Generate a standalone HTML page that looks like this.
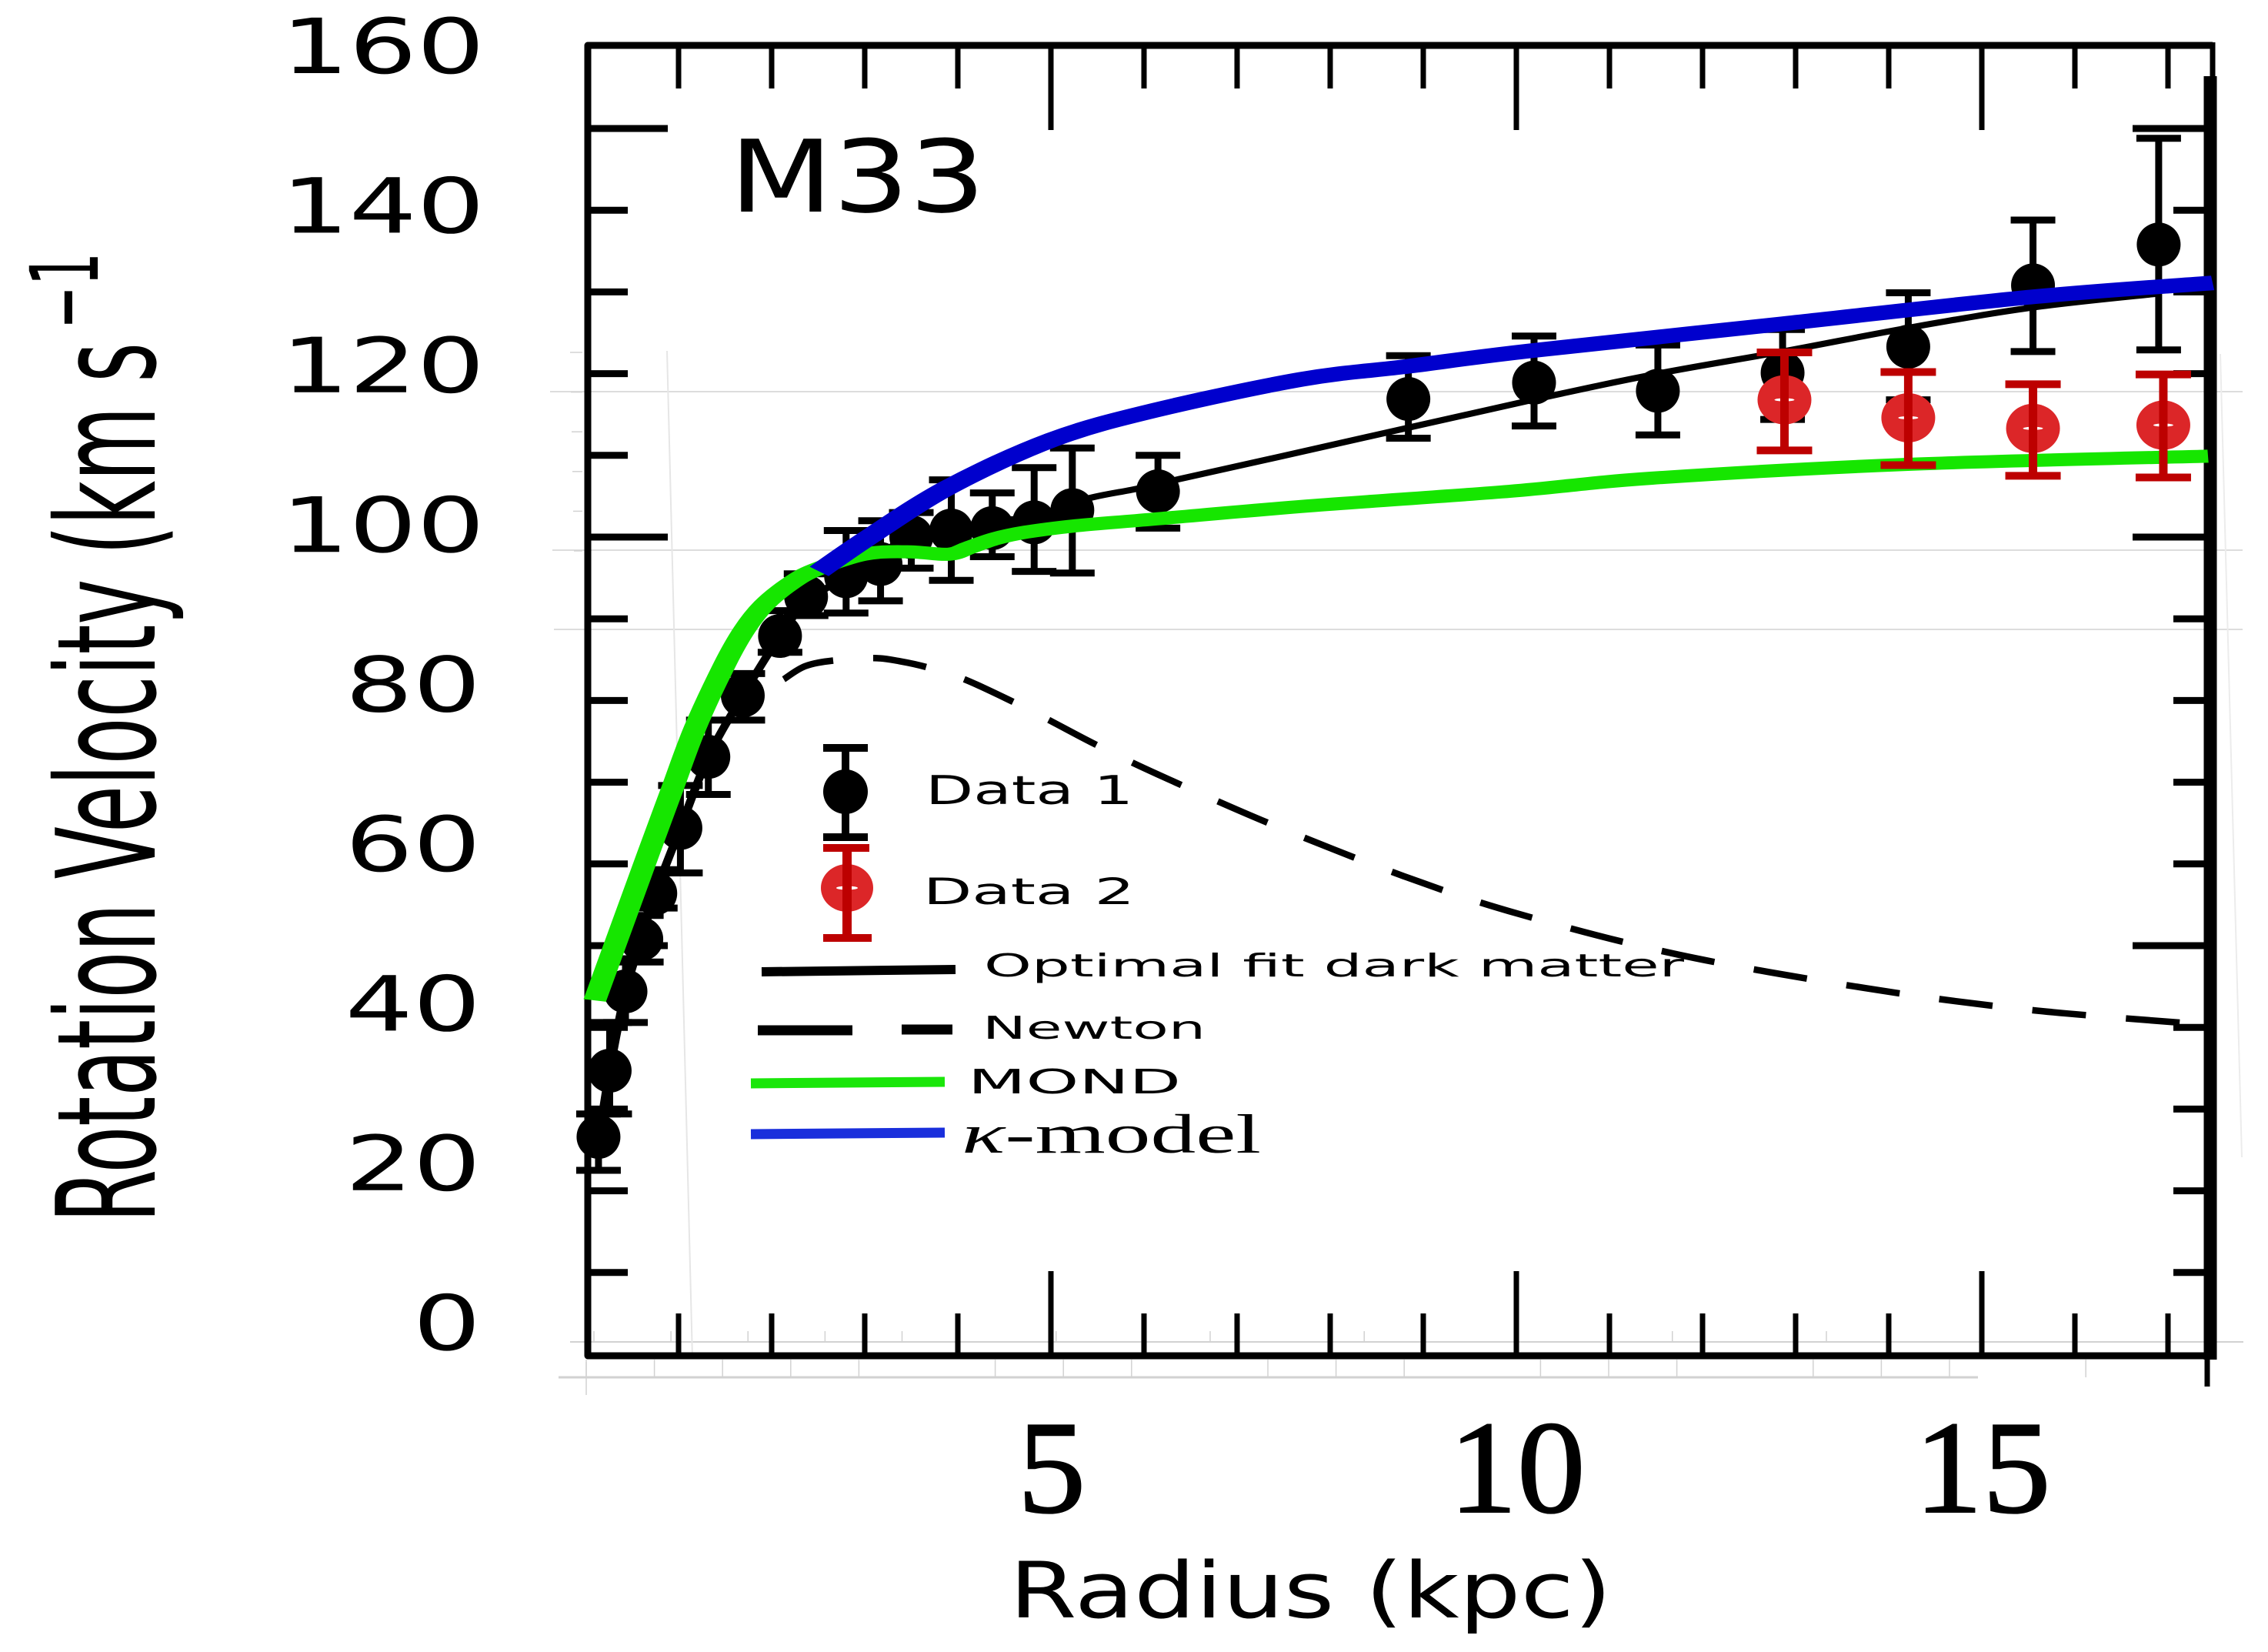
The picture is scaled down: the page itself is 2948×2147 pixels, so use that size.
<!DOCTYPE html>
<html lang="en">
<head>
<meta charset="utf-8">
<title>M33 Rotation Curve</title>
<style>
html,body{margin:0;padding:0;background:#fff;}
svg{display:block;}
text{font-family:"DejaVu Sans","Liberation Sans",sans-serif;fill:#000;}
</style>
</head>
<body>
<svg id="chart" xmlns="http://www.w3.org/2000/svg" width="2948" height="2147" viewBox="0 0 2948 2147">
  <rect x="0" y="0" width="2948" height="2147" fill="#fff"/>
  <g id="artifacts" stroke="#d2d2d2" fill="none">
    <line x1="715" y1="509" x2="2915" y2="509" stroke-width="1.5"/>
    <line x1="718" y1="715" x2="2915" y2="715" stroke-width="1.5"/>
    <line x1="720" y1="818" x2="2915" y2="818" stroke-width="1.5"/>
    <line x1="741" y1="1744" x2="2916" y2="1744" stroke-width="2"/>
    <line x1="726" y1="1790" x2="2571" y2="1790" stroke-width="3"/>
    <line x1="762" y1="1770" x2="762" y2="1813" stroke-width="1.5"/>
    <line x1="867" y1="456" x2="900" y2="1765" stroke="#e6e6e6" stroke-width="2"/>
    <line x1="2886" y1="460" x2="2914" y2="1504" stroke="#ececec" stroke-width="2"/>
  </g>
  <g id="frame" fill="none" stroke="#000" stroke-linejoin="round">
    <path d="M2876 59H764V1762H2873" stroke-width="9"/>
    <line x1="2876" y1="55" x2="2876" y2="110" stroke-width="7"/>
    <line x1="2873" y1="99" x2="2873" y2="1767" stroke-width="17"/>
    <line x1="2869" y1="1760" x2="2869" y2="1802" stroke-width="7"/>
  </g>
  <g id="ticks" stroke="#000"></g>
  <g id="tick-labels"></g>
  <g id="series-fit"></g>
  <g id="series-newton"></g>
  <g id="series-data1"></g>
  <g id="series-mond"></g>
  <g id="series-kappa"></g>
  <g id="series-data2"></g>

  <text x="948" y="275" font-size="130" textLength="333" lengthAdjust="spacingAndGlyphs">M33</text>

  <g transform="translate(201,1589) rotate(-90)">
    <text x="0" y="0" font-size="178" textLength="1144" lengthAdjust="spacingAndGlyphs">Rotation Velocity (km s</text>
  </g>
  <g transform="translate(127,428) rotate(-90)">
    <text x="0" y="0" font-size="122" textLength="100" lengthAdjust="spacingAndGlyphs">−1</text>
  </g>
  <text x="1312" y="2102" font-size="101" textLength="783" lengthAdjust="spacingAndGlyphs">Radius (kpc)</text>

  <g>
    <g>
      <line x1="1099" y1="972" x2="1099" y2="1088" stroke="#000" stroke-width="10"/>
      <line x1="1070" y1="972" x2="1128" y2="972" stroke="#000" stroke-width="10"/>
      <line x1="1070" y1="1088" x2="1128" y2="1088" stroke="#000" stroke-width="10"/>
      <circle cx="1099" cy="1029" r="29" fill="#000"/>
      <text x="1203" y="1045" font-size="52" textLength="270" lengthAdjust="spacingAndGlyphs">Data 1</text>
    </g>
    <g>
      <ellipse cx="1101" cy="1154" rx="34" ry="31" fill="#dc2628"/>
      <ellipse cx="1101" cy="1154" rx="14" ry="2.5" fill="#fff"/>
      <line x1="1101" y1="1102" x2="1101" y2="1219" stroke="#bd0000" stroke-width="12"/>
      <line x1="1070" y1="1102" x2="1130" y2="1102" stroke="#bd0000" stroke-width="10"/>
      <line x1="1070" y1="1219" x2="1133" y2="1219" stroke="#bd0000" stroke-width="10"/>
      <text x="1200" y="1175" font-size="47" textLength="275" lengthAdjust="spacingAndGlyphs">Data 2</text>
    </g>
    <g>
      <line x1="990" y1="1263" x2="1242" y2="1260" stroke="#000" stroke-width="12"/>
      <text x="1279" y="1269" font-size="41" textLength="910" lengthAdjust="spacingAndGlyphs">Optimal fit dark matter</text>
    </g>
    <g>
      <line x1="985" y1="1339" x2="1108" y2="1339" stroke="#000" stroke-width="13"/>
      <line x1="1172" y1="1338" x2="1238" y2="1338" stroke="#000" stroke-width="13"/>
      <text x="1277" y="1350" font-size="41" textLength="290" lengthAdjust="spacingAndGlyphs">Newton</text>
    </g>
    <g>
      <line x1="976" y1="1408" x2="1228" y2="1406" stroke="#1ae60a" stroke-width="13"/>
      <text x="1258" y="1421" font-size="44" textLength="277" lengthAdjust="spacingAndGlyphs">MOND</text>
    </g>
    <g>
      <line x1="976" y1="1474" x2="1228" y2="1472" stroke="#1a2fdc" stroke-width="13"/>
      <text x="1250" y="1498" font-size="72" textLength="389" lengthAdjust="spacingAndGlyphs" style="font-family:'Liberation Serif',serif"><tspan font-style="italic">κ</tspan>-model</text>
    </g>
  </g>
</svg>
<script>
// Axis tick values and labels
var xMinorTicks = [1,2,3,4,6,7,8,9,11,12,13,14,16,17];
var xMajorTicks = [5,10,15];
var xTickLabels = ["5","10","15"];
var yMinorTicks = [10,20,30,40,60,70,80,90,110,120,130,140];
var yMajorTicks = [50,100,150];
var yTickLabels = ["160","140","120","100","80","60","40","20","0"];
var yTickLabelValues = [160,140,120,100,80,60,40,20,0];

// Data 1 (black points)
var data1Radius = [0.14,0.26,0.43,0.60,0.75,1.02,1.32,1.69,2.09,2.37,2.80,3.17,3.50,3.93,4.37,4.82,5.23,6.15,8.84,10.19,11.52,12.86,14.21,15.55,16.90];
var data1Velocity = [26.6,34.7,44.4,50.8,56.4,64.4,73.1,80.6,87.9,92.7,95.2,96.7,100,100.8,101.1,101.8,103.3,105.6,116.9,118.9,117.9,120.1,123.3,130.8,135.8];
var data1High = [29.4,40.6,48.4,53.7,59.3,69.6,77.6,83.3,91,95.5,100.8,102,103,107,105.4,108.5,110.9,110,122.2,124.6,123.5,125.4,129.9,138.8,148.8];
var data1Low = [22.5,29.4,40.6,48,54.6,58.9,68.5,77.6,85.9,90.4,90.7,92.2,96.2,94.7,97.6,95.8,95.6,101.1,112.1,113.6,112.5,114.4,116.8,122.7,122.9];

// Data 2 (red points)
var data2Radius = [12.88,14.21,15.55,16.95];
var data2Velocity = [116.8,114.6,113.3,113.7];
var data2High = [122.6,120.2,118.7,119.9];
var data2Low = [110.6,108.8,107.5,107.3];

// Optimal fit dark matter
var fitRadius = [0.14,0.26,0.43,0.6,0.75,1.02,1.32,1.69,2.09,2.37,2.8,3.17,3.5,3.93,4.37,4.82,5.39,5.92,6.38,7.48,10.14,11.52,12.86,14.21,15.55,16.9];
var fitVelocity = [26,34.7,44.4,50.8,56.4,64.4,73.1,80.6,87.9,92,95.2,98,100,101,102,102.5,104.7,105.9,107.1,109.9,116.7,120,122.7,125.6,128.1,129.8];

// Newton
var newtonRadius = [2.13,2.36,2.67,3.1,3.38,3.66,4.07,4.6,4.98,5.5,6.14,7.38,8.79,10.02,11.74,13.75,15.46,17.33];
var newtonVelocity = [82.6,84.2,84.9,85.2,84.8,84.1,82.6,79.8,77.6,74.5,71,64.8,58.5,53.9,48.9,44.8,42.2,40.4];

// MOND
var mondRadius = [0.10,0.68,0.93,1.18,1.50,1.71,1.92,2.20,2.47,2.99,3.46,3.90,4.12,4.40,4.73,5.28,6.11,7.76,9.93,11.45,14.2,17.43];
var mondVelocity = [43.3,61.4,69.1,76.7,84.5,88.7,91.7,94.3,96,97.9,98.2,97.9,98.7,99.8,100.6,101.4,102.2,103.8,105.6,107.2,108.9,109.9];

// kappa-model
var kappaRadius = [2.51,3.02,3.90,5.01,6.11,7.69,8.84,10.15,12.86,15.55,17.48];
var kappaVelocity = [95.8,99.8,106.1,111.9,115.5,119.3,120.9,122.8,126.1,129.4,131.1];

var NS = "http://www.w3.org/2000/svg";
function xScale(v){ return 761 + 121 * v; }
function yScale(v){ return 1760 - 10.62 * v; }
function labelBaseline(v){ return 95 + (160 - v) * 10.37; }

function create(parentId, tag, attrs){
  var el = document.createElementNS(NS, tag);
  for (var k in attrs) el.setAttribute(k, attrs[k]);
  document.getElementById(parentId).appendChild(el);
  return el;
}

// Builds a smooth path; sx compresses x so that a scale(sx,1) transform gives an anisotropic stroke.
function curvePath(xs, ys, sx){
  var p = [];
  for (var i = 0; i < xs.length; i++) p.push([xScale(xs[i]) / sx, yScale(ys[i])]);
  var d = "M" + p[0][0].toFixed(2) + " " + p[0][1].toFixed(1);
  for (var j = 0; j < p.length - 1; j++) {
    var a = p[Math.max(j - 1, 0)], b = p[j], c = p[j + 1], e = p[Math.min(j + 2, p.length - 1)];
    var c1x = b[0] + (c[0] - a[0]) / 6, c1y = b[1] + (c[1] - a[1]) / 6;
    var c2x = c[0] - (e[0] - b[0]) / 6, c2y = c[1] - (e[1] - b[1]) / 6;
    d += "C" + c1x.toFixed(2) + " " + c1y.toFixed(1) + " " + c2x.toFixed(2) + " " + c2y.toFixed(1) + " " + c[0].toFixed(2) + " " + c[1].toFixed(1);
  }
  return d;
}

// Ticks
xMinorTicks.forEach(function(v){
  var b = create("ticks", "line", {x1:xScale(v), x2:xScale(v), y1:1760, y2:1707, "stroke-width":7});
  
  
  var t = create("ticks", "line", {x1:xScale(v), x2:xScale(v), y1:60, y2:115, "stroke-width":7});
  
  
});
xMajorTicks.forEach(function(v){
  var b = create("ticks", "line", {x1:xScale(v), x2:xScale(v), y1:1760, y2:1652, "stroke-width":7});
  
  
  var t = create("ticks", "line", {x1:xScale(v), x2:xScale(v), y1:60, y2:169, "stroke-width":7});
  
  
});
yMinorTicks.forEach(function(v){
  var l = create("ticks", "line", {x1:764, x2:816, y1:yScale(v), y2:yScale(v), "stroke-width":9});
  
  
  var r = create("ticks", "line", {x1:2870, x2:2825, y1:yScale(v), y2:yScale(v), "stroke-width":9});
  
  
});
yMajorTicks.forEach(function(v){
  var l = create("ticks", "line", {x1:764, x2:868, y1:yScale(v), y2:yScale(v), "stroke-width":9});
  
  
  var r = create("ticks", "line", {x1:2870, x2:2772, y1:yScale(v), y2:yScale(v), "stroke-width":9});
  
  
});

// Tick labels
yTickLabels.forEach(function(s, i){
  var v = yTickLabelValues[i];
  var ax = v >= 100 ? 630 : 625;
  var t = create("tick-labels", "text", {"text-anchor":"end", "font-size":99, transform:"translate(" + ax + "," + labelBaseline(v).toFixed(1) + ") scale(1.4,1)"});
  
  
  t.textContent = s;
});
xTickLabels.forEach(function(s, i){
  var v = xMajorTicks[i];
  var t = create("tick-labels", "text", {"text-anchor":"middle", "font-size":172, stroke:"#000", "stroke-width":2, style:"font-family:'Liberation Serif',serif", transform:"translate(" + (xScale(v) + 1) + ",1965) scale(1.03,1)"});
  
  
  t.textContent = s;
});

// Faint stub ticks along the left side
[120,110,100,90,80,70].forEach(function(n, i){
  var s = create("artifacts", "line", {x1:741 + i, x2:757, y1:458 + i * 51.6, y2:458 + i * 51.6, "stroke-width":1.5});
  
  
});
[0,89,178,267,356,534,712,890,1068,1246,1424,1602].forEach(function(n){
  var s = create("artifacts", "line", {x1:772 + n * 1.125, x2:772 + n * 1.125, y1:1730, y2:1744, "stroke-width":1.5});
  
  
});
[0,1,2,3,4,6,7,8,10,11,12,14,15,16,18,19,20,22].forEach(function(n, i){
  var s = create("artifacts", "line", {x1:762 + n * 88.6, x2:762 + n * 88.6, y1:1767, y2:1790, "stroke-width":1.5});
  
  
});

// Curves
var fitLine = create("series-fit", "path", {d:curvePath(fitRadius, fitVelocity, 1.4), transform:"scale(1.4,1)", fill:"none", stroke:"#000", "stroke-width":8, "stroke-linejoin":"round"});



var newtonLine = create("series-newton", "path", {d:curvePath(newtonRadius, newtonVelocity, 1), fill:"none", stroke:"#000", "stroke-width":8.5, "stroke-dasharray":"70 52"});



// Data 1 points
data1Radius.forEach(function(r, i){
  var x = xScale(r);
  var stem = create("series-data1", "line", {x1:x, x2:x, y1:yScale(data1High[i]), y2:yScale(data1Low[i]), stroke:"#000", "stroke-width":9});
  
  
  var capT = create("series-data1", "line", {x1:x - 29, x2:x + 29, y1:yScale(data1High[i]), y2:yScale(data1High[i]), stroke:"#000", "stroke-width":9});
  
  
  var capB = create("series-data1", "line", {x1:x - 29, x2:x + 29, y1:yScale(data1Low[i]), y2:yScale(data1Low[i]), stroke:"#000", "stroke-width":9});
  
  
  var dot = create("series-data1", "circle", {cx:x, cy:yScale(data1Velocity[i]), r:28.5, fill:"#000"});
  
  
});

var mondLine = create("series-mond", "path", {d:curvePath(mondRadius, mondVelocity, 1.75), transform:"scale(1.75,1)", fill:"none", stroke:"#16e600", "stroke-width":17, "stroke-linejoin":"round"});



var kappaLine = create("series-kappa", "path", {d:curvePath(kappaRadius, kappaVelocity, 1.7), transform:"scale(1.7,1)", fill:"none", stroke:"#0000cd", "stroke-width":19, "stroke-linejoin":"round"});



// Data 2 points
data2Radius.forEach(function(r, i){
  var x = xScale(r);
  var y = yScale(data2Velocity[i]);
  var dot = create("series-data2", "ellipse", {cx:x, cy:y, rx:35, ry:32, fill:"#dc2628"});
  
  
  var glint = create("series-data2", "ellipse", {cx:x, cy:y, rx:13, ry:2, fill:"#fff"});
  
  
  var stem = create("series-data2", "line", {x1:x, x2:x, y1:yScale(data2High[i]), y2:yScale(data2Low[i]), stroke:"#bd0000", "stroke-width":11});
  
  
  var capT = create("series-data2", "line", {x1:x - 36, x2:x + 36, y1:yScale(data2High[i]), y2:yScale(data2High[i]), stroke:"#bd0000", "stroke-width":10});
  
  
  var capB = create("series-data2", "line", {x1:x - 36, x2:x + 36, y1:yScale(data2Low[i]), y2:yScale(data2Low[i]), stroke:"#bd0000", "stroke-width":10});
  
  
});
</script>
</body>
</html>
